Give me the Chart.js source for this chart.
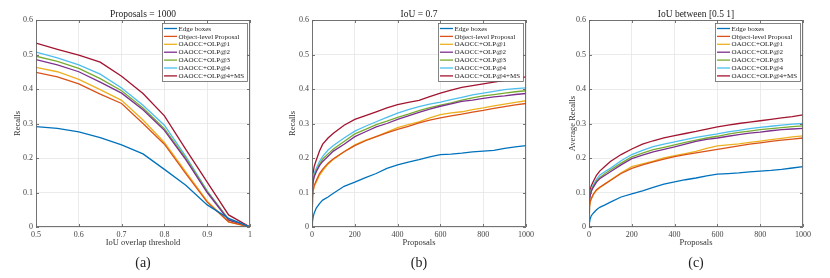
<!DOCTYPE html>
<html><head><meta charset="utf-8">
<script src="https://cdn.jsdelivr.net/npm/chart.js@4.4.1/dist/chart.umd.min.js"></script>
<style>
html,body{margin:0;padding:0;background:#fff;}
#wrap{position:relative;width:830px;height:278px;overflow:hidden;background:#fff;}
.panel{position:absolute;top:0;height:278px;}
canvas{display:block;}
</style></head><body>
<div id="wrap">
<div class="panel" style="left:0;width:280px"><canvas id="ca" width="280" height="278"></canvas></div>
<div class="panel" style="left:280px;width:280px"><canvas id="cb" width="280" height="278"></canvas></div>
<div class="panel" style="left:560px;width:270px"><canvas id="cc" width="270" height="278"></canvas></div>
</div>
<script>
// ---------- data ----------
const seriesNames = ["Edge boxes", "Object-level Proposal", "OAOCC+OLP@1", "OAOCC+OLP@2", "OAOCC+OLP@3", "OAOCC+OLP@4", "OAOCC+OLP@4+MS"];

// Panel (a): recall vs IoU overlap threshold, 1000 proposals
const iouThresholds = [0.5, 0.55, 0.6, 0.65, 0.7, 0.75, 0.8, 0.85, 0.9, 0.95, 1.0];
const recallA_edge = [0.291, 0.286, 0.276, 0.259, 0.238, 0.212, 0.167, 0.121, 0.064, 0.025, 0];
const recallA_olp  = [0.448, 0.435, 0.415, 0.385, 0.358, 0.300, 0.240, 0.155, 0.072, 0.015, 0];
const recallA_p1   = [0.463, 0.450, 0.428, 0.398, 0.367, 0.310, 0.245, 0.160, 0.075, 0.015, 0];
const recallA_p2   = [0.485, 0.470, 0.450, 0.420, 0.388, 0.340, 0.280, 0.195, 0.100, 0.020, 0];
const recallA_p3   = [0.495, 0.480, 0.460, 0.430, 0.395, 0.345, 0.285, 0.200, 0.103, 0.022, 0];
const recallA_p4   = [0.507, 0.490, 0.470, 0.443, 0.403, 0.353, 0.295, 0.205, 0.105, 0.022, 0];
const recallA_ms   = [0.533, 0.515, 0.498, 0.478, 0.437, 0.387, 0.322, 0.225, 0.130, 0.035, 0];

// Proposal counts for panels (b) and (c)
const proposals = [0, 2, 5, 10, 20, 35, 50, 75, 100, 150, 200, 250, 300, 350, 400, 450, 500, 550, 600, 650, 700, 750, 800, 850, 900, 950, 1000];

// Panel (b): recall at IoU = 0.7
const recallB_edge = [0.005, 0.015, 0.028, 0.040, 0.055, 0.068, 0.078, 0.087, 0.098, 0.118, 0.130, 0.143, 0.155, 0.170, 0.180, 0.188, 0.195, 0.203, 0.210, 0.211, 0.214, 0.218, 0.220, 0.222, 0.228, 0.232, 0.236];
const recallB_olp  = [0.060, 0.085, 0.105, 0.120, 0.135, 0.155, 0.168, 0.185, 0.198, 0.218, 0.236, 0.250, 0.262, 0.273, 0.283, 0.292, 0.302, 0.310, 0.316, 0.322, 0.327, 0.333, 0.338, 0.344, 0.349, 0.354, 0.358];
const recallB_p1   = [0.055, 0.082, 0.102, 0.118, 0.130, 0.150, 0.163, 0.182, 0.196, 0.218, 0.238, 0.252, 0.262, 0.275, 0.288, 0.297, 0.305, 0.316, 0.326, 0.331, 0.334, 0.340, 0.345, 0.351, 0.356, 0.361, 0.366];
const recallB_p2   = [0.070, 0.110, 0.130, 0.145, 0.160, 0.178, 0.190, 0.205, 0.220, 0.240, 0.262, 0.276, 0.290, 0.300, 0.312, 0.322, 0.332, 0.342, 0.350, 0.357, 0.364, 0.368, 0.373, 0.377, 0.380, 0.384, 0.387];
const recallB_p3   = [0.070, 0.112, 0.133, 0.148, 0.163, 0.182, 0.197, 0.212, 0.226, 0.248, 0.270, 0.283, 0.297, 0.307, 0.318, 0.327, 0.337, 0.346, 0.353, 0.360, 0.368, 0.374, 0.380, 0.384, 0.388, 0.392, 0.395];
const recallB_p4   = [0.065, 0.115, 0.138, 0.155, 0.170, 0.190, 0.205, 0.223, 0.236, 0.258, 0.278, 0.292, 0.305, 0.318, 0.330, 0.340, 0.349, 0.356, 0.362, 0.369, 0.376, 0.383, 0.388, 0.393, 0.398, 0.401, 0.403];
const recallB_ms   = [0.075, 0.130, 0.155, 0.175, 0.194, 0.220, 0.240, 0.258, 0.272, 0.295, 0.312, 0.323, 0.334, 0.345, 0.355, 0.361, 0.367, 0.378, 0.388, 0.397, 0.405, 0.410, 0.415, 0.420, 0.425, 0.430, 0.435];

// Panel (c): average recall, IoU between [0.5 1]
const recallC_edge = [0.003, 0.012, 0.022, 0.032, 0.040, 0.050, 0.057, 0.064, 0.072, 0.087, 0.096, 0.105, 0.115, 0.124, 0.131, 0.137, 0.142, 0.148, 0.153, 0.155, 0.157, 0.160, 0.162, 0.164, 0.167, 0.171, 0.175];
const recallC_olp  = [0.040, 0.060, 0.072, 0.082, 0.095, 0.108, 0.115, 0.125, 0.135, 0.155, 0.170, 0.180, 0.189, 0.197, 0.204, 0.210, 0.215, 0.220, 0.225, 0.230, 0.235, 0.240, 0.244, 0.248, 0.252, 0.255, 0.258];
const recallC_p1   = [0.035, 0.058, 0.070, 0.080, 0.093, 0.106, 0.114, 0.125, 0.136, 0.157, 0.175, 0.183, 0.191, 0.200, 0.207, 0.213, 0.219, 0.228, 0.235, 0.238, 0.241, 0.245, 0.249, 0.253, 0.257, 0.261, 0.264];
const recallC_p2   = [0.050, 0.075, 0.090, 0.102, 0.115, 0.130, 0.140, 0.150, 0.160, 0.180, 0.198, 0.208, 0.218, 0.225, 0.232, 0.240, 0.248, 0.254, 0.258, 0.263, 0.268, 0.272, 0.275, 0.279, 0.282, 0.284, 0.286];
const recallC_p3   = [0.050, 0.077, 0.092, 0.105, 0.118, 0.133, 0.143, 0.155, 0.165, 0.185, 0.203, 0.214, 0.224, 0.231, 0.238, 0.245, 0.252, 0.258, 0.263, 0.269, 0.274, 0.278, 0.282, 0.285, 0.288, 0.291, 0.293];
const recallC_p4   = [0.045, 0.078, 0.095, 0.108, 0.122, 0.138, 0.150, 0.161, 0.170, 0.192, 0.210, 0.222, 0.233, 0.240, 0.247, 0.253, 0.260, 0.265, 0.270, 0.276, 0.280, 0.285, 0.289, 0.292, 0.295, 0.298, 0.300];
const recallC_ms   = [0.060, 0.088, 0.105, 0.118, 0.132, 0.150, 0.162, 0.176, 0.190, 0.210, 0.226, 0.240, 0.250, 0.258, 0.265, 0.271, 0.277, 0.284, 0.290, 0.295, 0.300, 0.304, 0.308, 0.312, 0.316, 0.320, 0.325];

// ---------- styling ----------
const seriesColors = ["#0072BD", "#D95319", "#EDB120", "#7E2F8E", "#77AC30", "#4DBEEE", "#A2142F"];
const FONT = "'Liberation Serif','Times New Roman',serif";

const panelPlugin = {
  id: 'panelDeco',
  afterDraw(chart) {
    const o = chart.options.plugins.panelDeco;
    const ctx = chart.ctx;
    const a = chart.chartArea;
    const xs = chart.scales.x, ys = chart.scales.y;
    ctx.save();
    // axes box
    ctx.strokeStyle = '#666';
    ctx.lineWidth = 0.9;
    ctx.strokeRect(a.left + 0.5, a.top + 0.5, a.right - a.left - 1, a.bottom - a.top - 1);
    // inward ticks
    ctx.beginPath();
    xs.ticks.forEach(t => {
      const px = Math.round(xs.getPixelForValue(t.value)) + 0.5;
      ctx.moveTo(px, a.bottom); ctx.lineTo(px, a.bottom - 3);
      ctx.moveTo(px, a.top); ctx.lineTo(px, a.top + 3);
    });
    ys.ticks.forEach(t => {
      const py = Math.round(ys.getPixelForValue(t.value)) + 0.5;
      ctx.moveTo(a.left, py); ctx.lineTo(a.left + 3, py);
      ctx.moveTo(a.right, py); ctx.lineTo(a.right - 3, py);
    });
    ctx.stroke();
    // title & caption
    const cx = (a.left + a.right) / 2;
    ctx.fillStyle = '#222';
    ctx.textAlign = 'center';
    ctx.textBaseline = 'middle';
    ctx.font = "9.5px " + FONT;
    ctx.fillText(o.title, cx, 14);
    ctx.font = "14px " + FONT;
    ctx.fillText(o.caption, cx, 263);
    // legend
    ctx.font = "7px " + FONT;
    const ds = chart.data.datasets;
    let maxW = 0;
    ds.forEach(d => { maxW = Math.max(maxW, ctx.measureText(d.label).width); });
    const bw = Math.round(maxW + 19), bh = 58;
    const bx = Math.round(a.right - 3 - bw), by = a.top + 3;
    ctx.fillStyle = '#fff';
    ctx.fillRect(bx, by, bw, bh);
    ctx.strokeStyle = '#666';
    ctx.lineWidth = 0.8;
    ctx.strokeRect(bx + 0.5, by + 0.5, bw, bh);
    ctx.textAlign = 'left';
    ds.forEach((d, i) => {
      const yy = by + 5.5 + i * 7.9;
      ctx.strokeStyle = d.borderColor;
      ctx.lineWidth = 1.3;
      ctx.beginPath(); ctx.moveTo(bx + 2, yy); ctx.lineTo(bx + 15, yy); ctx.stroke();
      ctx.fillStyle = '#222';
      ctx.fillText(d.label, bx + 16.5, yy + 0.3);
    });
    ctx.restore();
  }
};

function fmt(v) { return String(+Number(v).toFixed(2)); }

function makePanel(id, cfg) {
  const canvas = document.getElementById(id);
  const W = canvas.width;
  const datasets = cfg.series.map((vals, i) => ({
    label: seriesNames[i],
    data: cfg.xs.map((x, j) => ({ x: x, y: vals[j] })),
    borderColor: seriesColors[i],
    backgroundColor: seriesColors[i],
    borderWidth: 1.3,
    pointRadius: 0,
    tension: 0,
    fill: false
  }));
  return new Chart(canvas, {
    type: 'line',
    data: { datasets },
    plugins: [panelPlugin],
    options: {
      responsive: false,
      animation: false,
      devicePixelRatio: 1,
      layout: { padding: { left: 0, top: 20, right: W - cfg.right, bottom: 26 } },
      plugins: {
        legend: { display: false },
        tooltip: { enabled: false },
        title: { display: false },
        panelDeco: { title: cfg.title, caption: cfg.caption }
      },
      scales: {
        x: {
          type: 'linear',
          min: cfg.xMin, max: cfg.xMax,
          afterFit: s => { s.height = 25; },
          border: { display: false },
          grid: { color: '#e6e6e6', lineWidth: 0.8, drawTicks: false },
          ticks: {
            stepSize: cfg.xStep, padding: 3, color: '#444',
            font: { family: FONT, size: 8 }, maxRotation: 0,
            callback: v => fmt(v)
          },
          title: {
            display: true, text: cfg.xTitle, color: '#333',
            font: { family: FONT, size: 8.5 }, padding: { top: 0, bottom: 4 }
          }
        },
        y: {
          type: 'linear',
          min: 0, max: 0.6,
          afterFit: s => { s.width = cfg.left; },
          border: { display: false },
          grid: { color: '#e6e6e6', lineWidth: 0.8, drawTicks: false },
          ticks: {
            stepSize: 0.1, padding: 3, color: '#444',
            font: { family: FONT, size: 8 },
            callback: v => fmt(v)
          },
          title: {
            display: true, text: cfg.yTitle, color: '#333',
            font: { family: FONT, size: 8.5 }, padding: { top: cfg.yTitlePad, bottom: 0 }
          }
        }
      }
    }
  });
}

makePanel('ca', {
  left: 36, right: 250, xMin: 0.5, xMax: 1, xStep: 0.1,
  xs: iouThresholds,
  series: [recallA_edge, recallA_olp, recallA_p1, recallA_p2, recallA_p3, recallA_p4, recallA_ms],
  title: "Proposals = 1000", caption: "(a)",
  xTitle: "IoU overlap threshold", yTitle: "Recalls", yTitlePad: 13
});
makePanel('cb', {
  left: 32, right: 246, xMin: 0, xMax: 1000, xStep: 200,
  xs: proposals,
  series: [recallB_edge, recallB_olp, recallB_p1, recallB_p2, recallB_p3, recallB_p4, recallB_ms],
  title: "IoU = 0.7", caption: "(b)",
  xTitle: "Proposals", yTitle: "Recalls", yTitlePad: 8
});
makePanel('cc', {
  left: 29, right: 243, xMin: 0, xMax: 1000, xStep: 200,
  xs: proposals,
  series: [recallC_edge, recallC_olp, recallC_p1, recallC_p2, recallC_p3, recallC_p4, recallC_ms],
  title: "IoU between [0.5 1]", caption: "(c)",
  xTitle: "Proposals", yTitle: "Average Recalls", yTitlePad: 7.5
});
</script>
</body></html>
